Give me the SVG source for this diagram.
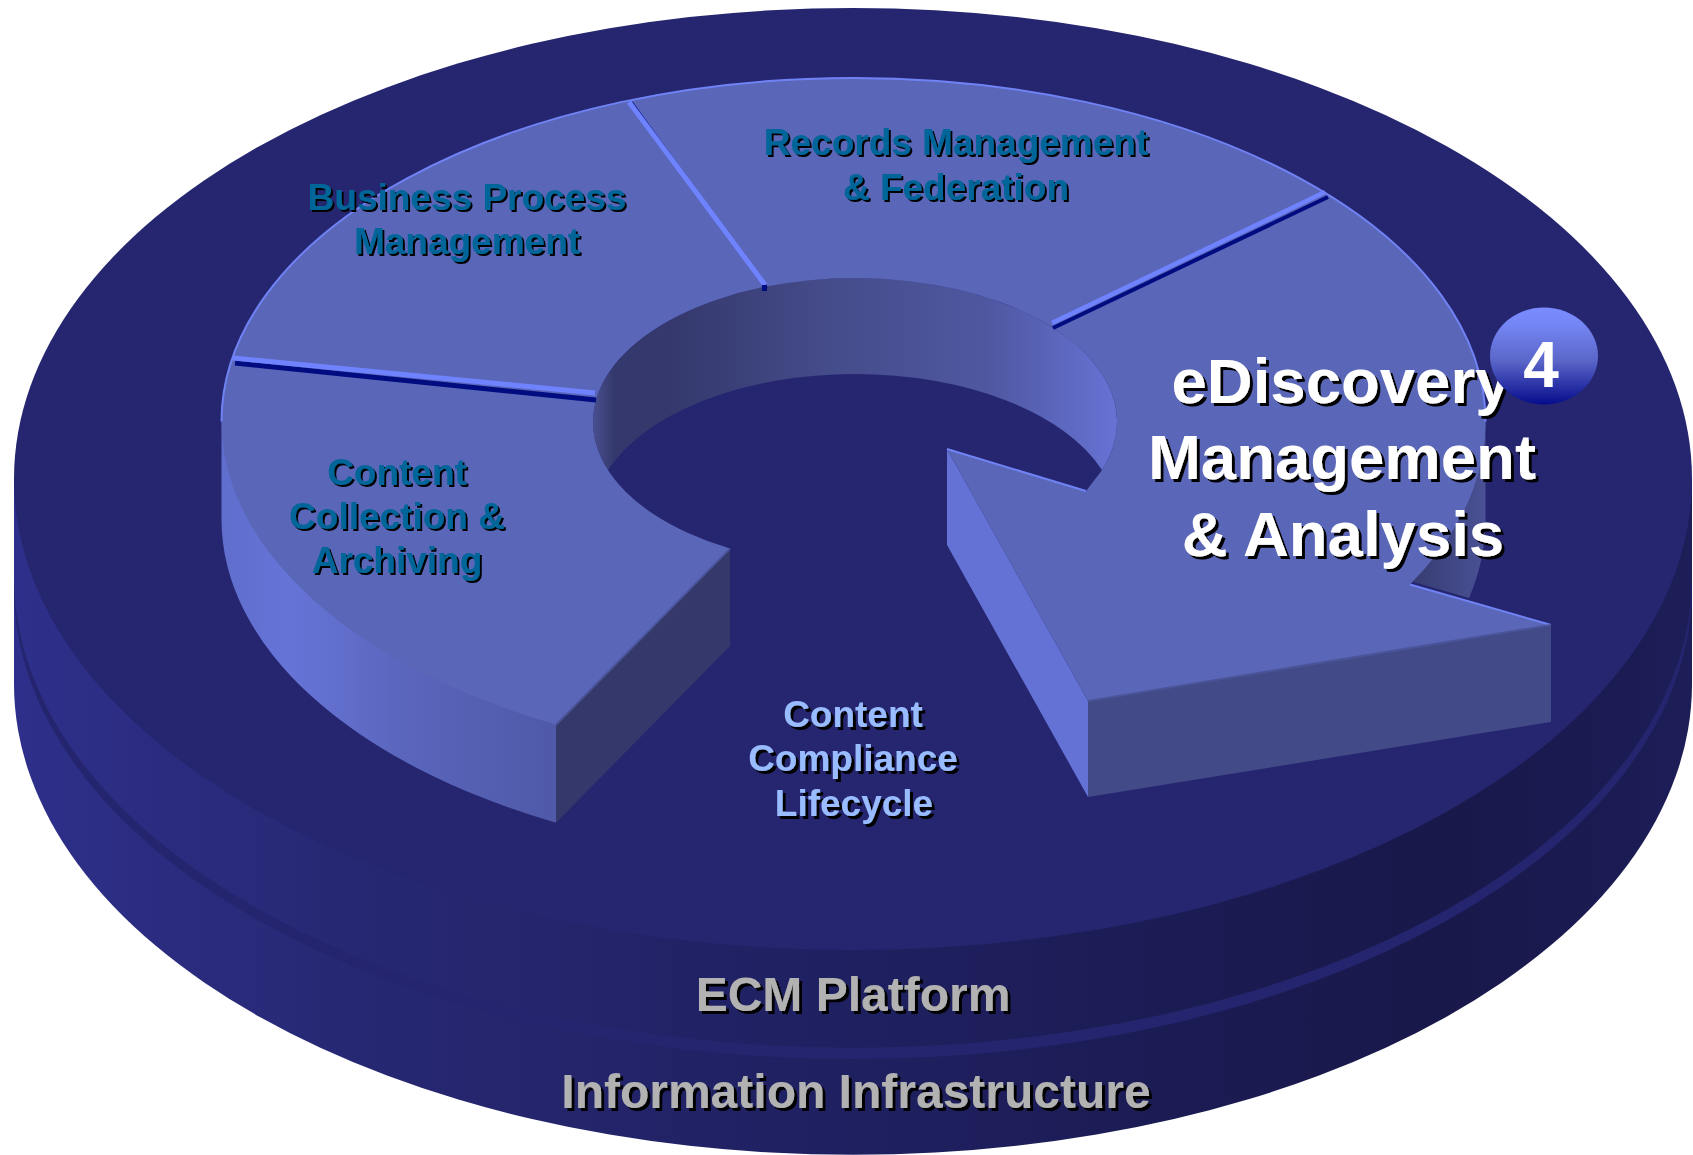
<svg xmlns="http://www.w3.org/2000/svg" width="1693" height="1155" viewBox="0 0 1693 1155">
<style>
text{font-family:"Liberation Sans",Arial,sans-serif;font-weight:700;text-anchor:middle}
.seg{font-size:37px;fill:#006699;filter:url(#s2)}
.lc{font-size:37px;fill:#99bbff;filter:url(#s3)}
.big{font-size:63.5px;fill:#fff;filter:url(#s3)}
.base{font-size:48px;fill:#b2b2b2;filter:url(#s3)}
.rim{fill:none;stroke:#7083f5;stroke-width:2}
.lt{stroke:#7083ff;fill:none}
.dk{stroke:#000c80;fill:none}
</style>
<defs>
<linearGradient id="g1" gradientUnits="userSpaceOnUse" x1="14" y1="0" x2="1692" y2="0"><stop offset="0" stop-color="#2e2f8a"/><stop offset=".2" stop-color="#272873"/><stop offset=".5" stop-color="#1f2060"/><stop offset=".85" stop-color="#18184a"/><stop offset="1" stop-color="#1d1d58"/></linearGradient>
<linearGradient id="gw" gradientUnits="userSpaceOnUse" x1="593" y1="0" x2="1117" y2="0"><stop offset="0" stop-color="#4a5090"/><stop offset=".04" stop-color="#34386c"/><stop offset=".15" stop-color="#34386c"/><stop offset=".45" stop-color="#454c8a"/><stop offset=".75" stop-color="#4f57a0"/><stop offset="1" stop-color="#6673d4"/></linearGradient>
<linearGradient id="gs" gradientUnits="userSpaceOnUse" x1="221" y1="0" x2="556" y2="0"><stop offset="0" stop-color="#5f6dcc"/><stop offset=".2" stop-color="#6674d8"/><stop offset=".55" stop-color="#5a66bc"/><stop offset="1" stop-color="#4f59a8"/></linearGradient>
<linearGradient id="gr" gradientUnits="userSpaceOnUse" x1="1400" y1="0" x2="1487" y2="0"><stop offset="0" stop-color="#34386c"/><stop offset="1" stop-color="#4a5296"/></linearGradient>
<linearGradient id="gb" x1="0" y1="0" x2="0" y2="1"><stop offset="0" stop-color="#7a8cff"/><stop offset=".18" stop-color="#7485f4"/><stop offset=".55" stop-color="#5a66c8"/><stop offset="1" stop-color="#050c8c"/></linearGradient>
<filter id="s2" x="-10%" y="-20%" width="120%" height="140%"><feDropShadow dx="2" dy="2" stdDeviation="0" flood-color="#000"/></filter>
<filter id="s3" x="-10%" y="-20%" width="120%" height="140%"><feDropShadow dx="3" dy="3" stdDeviation="0" flood-color="#000"/></filter>
</defs>

<g id="platform-base">
<path fill="url(#g1)" d="M14,588 V684 A839 471 0 0 0 1692,684 V588 Z"/>
<ellipse cx="853" cy="588" rx="839" ry="471" fill="#24256e"/>
<path fill="url(#g1)" d="M14,479 V577 A839 471 0 0 0 1692,577 V479 Z"/>
<ellipse cx="853" cy="479" rx="839" ry="471" fill="#25266f"/>
</g>

<g id="ring">
<path fill="url(#gs)" d="M221.5,421.6 V519 A632 343.6 0 0 0 556,822.7 V715 L400,500 L240,420 Z"/>
<path fill="url(#gr)" d="M1400,420 H1485.5 V518.6 A632 343.6 0 0 1 1469,598 L1400,578 Z"/>
<path fill="url(#gw)" d="M608,470 A262 144 0 1 1 1102,470 A262 144 0 0 0 608,470 Z"/>
<path fill="#34386a" d="M730,548.6 V646 L556,822.7 V724.7 Z"/>
<path fill="#6472d6" d="M947,449 V545 L1088,797 V701 Z"/>
<path fill="#434a88" d="M1088,701 L1551,625 V722 L1088,797 Z"/>
<path fill="#5a66b8" d="M556,724.7 A632 343.6 0 1 1 1410,584.5 L1551,625 L1088,701 L947,449 L1086,491 L1101,471.5 A262 144 0 1 0 730,548.6 Z"/>
<path class="rim" d="M221.5,421.6 A632 343.6 0 0 1 1485.5,421.6"/>
<path class="rim" d="M1410,584.5 L1551,625 M947,449 L1086,491"/>
<path class="rim" style="stroke:#4a5498" d="M556,724.7 L730,548.6 M1088,701 L1551,625"/>
</g>

<g id="connectors">
<path class="dk" stroke-width="5" d="M235,363 L596,400"/>
<path class="lt" stroke-width="5" d="M233,358 L595,393"/>
<path class="dk" stroke-width="4" d="M1053,328 L1328,197"/>
<path class="lt" stroke-width="4.5" d="M1052,323 L1325,192"/>
<path class="dk" stroke-width="1.5" d="M632,102 L767,288"/>
<path class="lt" stroke-width="5" d="M629,102 L765,285"/>
<rect x="762" y="285" width="5" height="6" fill="#000c80"/>
</g>

<g id="node-business-process"><text class="seg" x="467" y="210">Business Process</text><text class="seg" x="467" y="254">Management</text></g>
<g id="node-records"><text class="seg" x="956" y="155">Records Management</text><text class="seg" x="956" y="200">&amp; Federation</text></g>
<g id="node-collection"><text class="seg" x="397" y="485">Content</text><text class="seg" x="397" y="529">Collection &amp;</text><text class="seg" x="397" y="573">Archiving</text></g>
<g id="node-compliance"><text class="lc" x="853" y="727">Content</text><text class="lc" x="853" y="771">Compliance</text><text class="lc" x="854" y="816">Lifecycle</text></g>
<g id="node-ediscovery"><text class="big" x="1341" y="403">eDiscovery</text><text class="big" x="1342" y="479">Management</text><text class="big" x="1343" y="556">&amp; Analysis</text></g>
<g id="node-badge"><ellipse cx="1544" cy="356" rx="54" ry="48.5" fill="url(#gb)"/><text x="1541" y="387" font-size="64" fill="#fff">4</text></g>
<g id="node-ecm"><text class="base" x="853" y="1011">ECM Platform</text></g>
<g id="node-infrastructure"><text class="base" x="856" y="1108">Information Infrastructure</text></g>
</svg>
